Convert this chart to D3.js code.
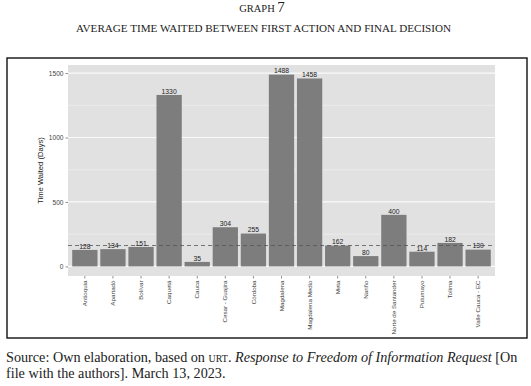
<!DOCTYPE html>
<html>
<head>
    <meta charset="utf-8">
    <script src="https://d3js.org/d3.v7.min.js"></script>
    <style>
        body { margin: 0; background: #fff; }
        svg { display: block; }
        .serif { font-family: 'Liberation Serif', 'Times New Roman', serif; fill: #222; }
        .sans { font-family: 'Liberation Sans', Arial, sans-serif; }
    </style>
</head>
<body>
<div id="chart"></div>
<script>
    const regions = ["Antioquia", "Apartadó", "Bolívar", "Caquetá", "Cauca", "Cesar - Guajira",
        "Córdoba", "Magdalena", "Magdalena Medio", "Meta", "Nariño", "Norte de Santander",
        "Putumayo", "Tolima", "Valle Cauca - EC"];
    const daysWaited = [128, 134, 151, 1330, 35, 304, 255, 1488, 1458, 162, 80, 400, 114, 182, 130];
    const yTicks = [0, 500, 1000, 1500];
    const yMinor = [250, 750, 1250];

    const width = 531, height = 386;
    const panel = { left: 68, right: 495, top: 65, bottom: 276 };

    const svg = d3.select('#chart').append('svg')
        .attr('width', width)
        .attr('height', height);

    // headings
    const head = svg.append('text').attr('class', 'serif')
        .attr('x', 262).attr('y', 11.5).attr('text-anchor', 'middle');
    head.append('tspan').attr('font-size', 10.5).text('GRAPH ');
    head.append('tspan').attr('font-size', 15).text('7');

    svg.append('text').attr('class', 'serif')
        .attr('x', 263.5).attr('y', 32)
        .attr('text-anchor', 'middle')
        .attr('font-size', 9.3)
        .attr('textLength', 375)
        .attr('lengthAdjust', 'spacingAndGlyphs')
        .text('AVERAGE TIME WAITED BETWEEN FIRST ACTION AND FINAL DECISION');

    // frame round the figure
    svg.append('rect')
        .attr('x', 7).attr('y', 58)
        .attr('width', 520).attr('height', 280)
        .attr('fill', 'none')
        .attr('stroke', '#111')
        .attr('stroke-width', 1.4);

    const x = d3.scaleBand()
        .domain(regions)
        .range([panel.left, panel.right])
        .paddingInner(0.1)
        .paddingOuter(0.15);

    const maxV = d3.max(daysWaited);
    const y = d3.scaleLinear()
        .domain([-0.05 * maxV, 1.05 * maxV])
        .range([panel.bottom, panel.top]);

    svg.append('rect')
        .attr('x', panel.left).attr('y', panel.top)
        .attr('width', panel.right - panel.left)
        .attr('height', panel.bottom - panel.top)
        .attr('fill', '#e1e1e2');

    svg.append('g').selectAll('line')
        .data(yMinor)
        .join('line')
        .attr('x1', panel.left).attr('x2', panel.right)
        .attr('y1', d => y(d)).attr('y2', d => y(d))
        .attr('stroke', '#f2f2f2').attr('stroke-width', 0.6);

    svg.append('g').selectAll('line')
        .data(yTicks)
        .join('line')
        .attr('x1', panel.left).attr('x2', panel.right)
        .attr('y1', d => y(d)).attr('y2', d => y(d))
        .attr('stroke', '#fafafa').attr('stroke-width', 1.2);

    // bars
    svg.append('g').selectAll('rect')
        .data(daysWaited)
        .join('rect')
        .attr('x', (d, i) => x(regions[i]))
        .attr('y', d => y(d))
        .attr('width', x.bandwidth())
        .attr('height', d => y(0) - y(d))
        .attr('fill', '#7d7d7e');

    // median reference line
    const med = d3.median(daysWaited);
    svg.append('line')
        .attr('x1', panel.left).attr('x2', panel.right)
        .attr('y1', y(med)).attr('y2', y(med))
        .attr('stroke', '#555')
        .attr('stroke-width', 0.8)
        .attr('stroke-dasharray', '4,3');

    // value labels
    svg.append('g').selectAll('text')
        .data(daysWaited)
        .join('text')
        .attr('class', 'sans')
        .attr('x', (d, i) => x(regions[i]) + x.bandwidth() / 2)
        .attr('y', d => y(d) - 1.2)
        .attr('text-anchor', 'middle')
        .attr('font-size', 6.8)
        .attr('fill', '#222')
        .text(d => d);

    // y axis
    const yAxis = svg.append('g')
        .attr('transform', `translate(${panel.left},0)`)
        .call(d3.axisLeft(y).tickValues(yTicks).tickFormat(d3.format('d')).tickSize(2.5).tickPadding(2));
    yAxis.select('.domain').remove();
    yAxis.selectAll('line').attr('stroke', '#444').attr('stroke-width', 0.6);
    yAxis.selectAll('text')
        .attr('font-family', "'Liberation Sans', Arial, sans-serif")
        .attr('font-size', 6.6).attr('fill', '#444');

    // x axis
    const xAxis = svg.append('g')
        .attr('transform', `translate(0,${panel.bottom})`)
        .call(d3.axisBottom(x).tickSize(2.5).tickPadding(2));
    xAxis.select('.domain').remove();
    xAxis.selectAll('line').attr('stroke', '#444').attr('stroke-width', 0.6);
    xAxis.selectAll('text')
        .attr('font-family', "'Liberation Sans', Arial, sans-serif")
        .attr('font-size', 6.2)
        .attr('fill', '#444')
        .attr('transform', 'rotate(-90)')
        .attr('x', -4.5)
        .attr('y', 0)
        .attr('dy', '0.35em')
        .attr('text-anchor', 'end');

    svg.append('text')
        .attr('class', 'sans')
        .attr('transform', `translate(40.5,${(panel.top + panel.bottom) / 2}) rotate(-90)`)
        .attr('text-anchor', 'middle')
        .attr('dy', '0.35em')
        .attr('font-size', 7.6)
        .attr('fill', '#222')
        .text('Time Waited (Days)');

    // source note
    const src = svg.append('text').attr('class', 'serif')
        .attr('x', 6).attr('y', 362).attr('font-size', 14.2).attr('fill', '#111');
    src.append('tspan').text('Source: Own elaboration, based on ');
    src.append('tspan').attr('font-size', 10).text('URT');
    src.append('tspan').text('. ');
    src.append('tspan').attr('font-style', 'italic').text('Response to Freedom of Information Request');
    src.append('tspan').text(' [On');

    svg.append('text').attr('class', 'serif')
        .attr('x', 6).attr('y', 378).attr('font-size', 14.2).attr('fill', '#111')
        .text('file with the authors]. March 13, 2023.');
</script>
</body>
</html>
